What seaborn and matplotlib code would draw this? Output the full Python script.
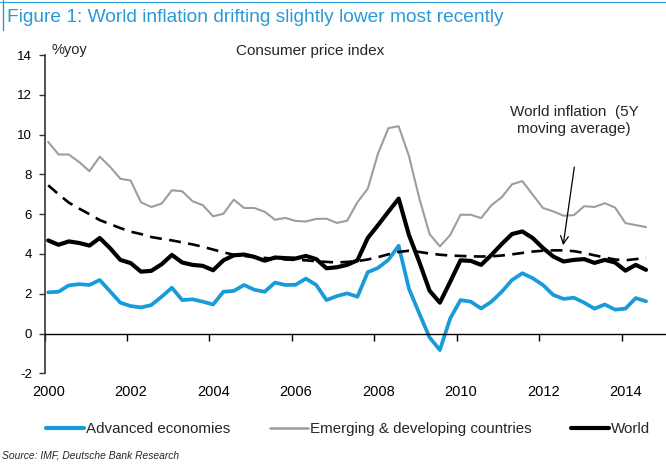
import numpy as np
import pandas as pd
import matplotlib
matplotlib.use("Agg")
import matplotlib.pyplot as plt
import seaborn as sns
from matplotlib.lines import Line2D
from matplotlib.transforms import ScaledTranslation

# ---- data (quarterly, %yoy) ----
quarters = 2000.09 + 0.25 * np.arange(59)

advanced = [2.07, 2.10, 2.42, 2.48, 2.44, 2.69, 2.12, 1.55, 1.38, 1.31,
            1.43, 1.85, 2.30, 1.68, 1.72, 1.60, 1.46, 2.10, 2.14, 2.44,
            2.20, 2.10, 2.56, 2.44, 2.45, 2.76, 2.44, 1.68, 1.88, 2.02,
            1.85, 3.08, 3.30, 3.70, 4.41, 2.25, 1.01, -0.20, -0.83, 0.76,
            1.68, 1.60, 1.26, 1.60, 2.10, 2.69, 3.03, 2.78, 2.44, 1.94,
            1.74, 1.80, 1.55, 1.25, 1.46, 1.20, 1.25, 1.78, 1.62]

emerging = [9.63, 9.00, 9.00, 8.62, 8.16, 8.89, 8.38, 7.78, 7.69, 6.60,
            6.36, 6.53, 7.20, 7.15, 6.65, 6.45, 5.89, 6.02, 6.73, 6.31,
            6.31, 6.12, 5.72, 5.81, 5.66, 5.63, 5.76, 5.77, 5.56, 5.67,
            6.60, 7.28, 9.05, 10.32, 10.42, 8.92, 6.80, 5.00, 4.38, 4.95,
            5.97, 5.97, 5.80, 6.45, 6.85, 7.50, 7.66, 6.98, 6.31, 6.14,
            5.92, 5.95, 6.40, 6.36, 6.55, 6.33, 5.55, 5.45, 5.35]

world = [4.68, 4.46, 4.63, 4.55, 4.42, 4.80, 4.29, 3.70, 3.54, 3.11,
         3.15, 3.48, 3.95, 3.57, 3.45, 3.40, 3.18, 3.68, 3.93, 3.97,
         3.85, 3.66, 3.82, 3.79, 3.77, 3.90, 3.74, 3.28, 3.33, 3.45,
         3.68, 4.80, 5.45, 6.12, 6.78, 4.95, 3.60, 2.15, 1.55, 2.60,
         3.68, 3.65, 3.45, 3.95, 4.50, 5.00, 5.13, 4.80, 4.30, 3.87,
         3.62, 3.70, 3.74, 3.55, 3.70, 3.57, 3.16, 3.45, 3.20]

world_5y = [7.45, 7.00, 6.58, 6.28, 6.00, 5.70, 5.50, 5.30, 5.12, 5.00,
            4.85, 4.76, 4.68, 4.58, 4.48, 4.36, 4.22, 4.08, 3.96, 3.90,
            3.85, 3.80, 3.76, 3.72, 3.70, 3.68, 3.63, 3.60, 3.57, 3.60,
            3.64, 3.72, 3.84, 3.98, 4.10, 4.16, 4.10, 4.02, 3.96, 3.92,
            3.90, 3.88, 3.87, 3.88, 3.92, 3.98, 4.05, 4.12, 4.16, 4.18,
            4.18, 4.14, 4.05, 3.93, 3.82, 3.72, 3.68, 3.74, 3.80]

x_ticks = [2000, 2002, 2004, 2006, 2008, 2010, 2012, 2014]
y_ticks = [-2, 0, 2, 4, 6, 8, 10, 12, 14]

labels = ["Advanced economies", "Emerging & developing countries", "World"]

BLUE = "#1a9bd9"
GRAY = "#9d9d9d"
TITLE_BLUE = "#2a9ad6"

sns.set_theme(style="white")
plt.rcParams["font.family"] = ["Liberation Sans", "DejaVu Sans"]
plt.rcParams["axes.unicode_minus"] = False

W, H = 666, 468
fig = plt.figure(figsize=(W / 100, H / 100), dpi=100)
ax = fig.add_axes([44.5 / W, (H - 373.3) / H, (665 - 44.5) / W, (373.3 - 55) / H])

sns.lineplot(x=quarters, y=advanced, ax=ax, color=BLUE, lw=2.7)
sns.lineplot(x=quarters, y=emerging, ax=ax, color=GRAY, lw=1.5)
sns.lineplot(x=quarters, y=world, ax=ax, color="black", lw=3.0)
sns.lineplot(x=quarters, y=world_5y, ax=ax, color="black", lw=1.9,
             linestyle=(0, (4.5, 2.8)))

ax.set_xlim(2000, 2015.05)
ax.set_ylim(-2, 14)
ax.set_xticks(x_ticks)
ax.set_xticklabels([str(t) for t in x_ticks])
ax.set_yticks(y_ticks)
ax.set_yticklabels([str(t) for t in y_ticks])

for s in ["top", "right"]:
    ax.spines[s].set_visible(False)
ax.spines["left"].set_color("#333333")
ax.spines["left"].set_linewidth(1.2)
ax.spines["bottom"].set_color("black")
ax.spines["bottom"].set_linewidth(1.0)
ax.spines["bottom"].set_position(("data", 0))

ax.tick_params(axis="y", left=True, direction="out", length=4, width=1.0,
               color="#333333", pad=5, labelsize=9.5, labelcolor="black")
ax.tick_params(axis="x", bottom=True, direction="out", length=5, width=1.0,
               color="black", pad=32, labelsize=10.5, labelcolor="black")
for lab in ax.get_xticklabels():
    lab.set_transform(lab.get_transform() + ScaledTranslation(4 / 100, 0, fig.dpi_scale_trans))

ax.set_xlabel("")
ax.set_ylabel("")
ax.grid(False)

ax.text(2000.18, 14.25, "%yoy", fontsize=10.5, va="center", ha="left", clip_on=False)
ax.text(2006.44, 14.2, "Consumer price index", fontsize=11, va="center", ha="center", clip_on=False)
ax.text(2012.84, 10.7, "World inflation  (5Y\nmoving average)", fontsize=11,
        va="center", ha="center", multialignment="center", linespacing=1.25)
ax.annotate("", xy=(2012.57, 4.3), xytext=(2012.86, 8.5),
            arrowprops=dict(arrowstyle="->", color="black", lw=0.9, mutation_scale=14))

handles = [Line2D([], [], color=BLUE, lw=3.0),
           Line2D([], [], color=GRAY, lw=1.8),
           Line2D([], [], color="black", lw=3.0)]
fig.legend(handles, labels, loc="center", bbox_to_anchor=(348 / W, 1 - 429 / H),
           ncol=3, frameon=False, fontsize=10.9, handlelength=2.5,
           handletextpad=0.15, columnspacing=2.6)

fig.text(2 / W, 1 - 456 / H, "Source: IMF, Deutsche Bank Research", fontsize=7.4,
         style="italic", va="center", ha="left")
fig.text(7 / W, 1 - 18 / H, "Figure 1: World inflation drifting slightly lower most recently",
         color=TITLE_BLUE, fontsize=13.8, va="center", ha="left")

fig.add_artist(Line2D([0, 1], [1 - 1.5 / H, 1 - 1.5 / H], color=TITLE_BLUE, lw=0.8,
                      transform=fig.transFigure))
fig.add_artist(Line2D([3 / W, 3 / W], [1, 1 - 30 / H], color=TITLE_BLUE, lw=1.0,
                      transform=fig.transFigure))

fig.savefig("out.png", dpi=100)
